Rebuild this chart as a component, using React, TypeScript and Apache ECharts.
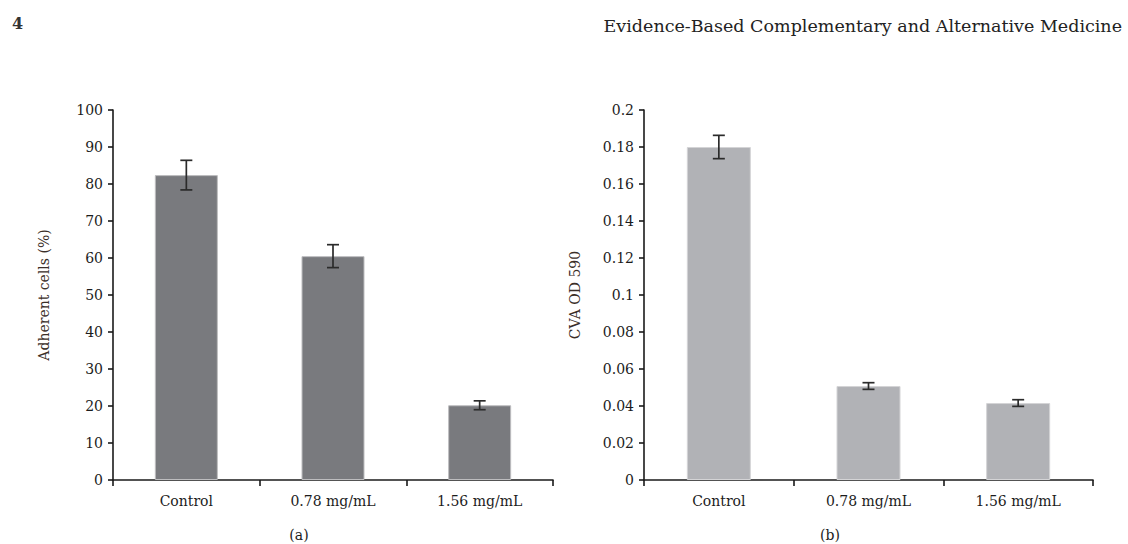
import React, { useEffect, useRef } from "react";
import * as echarts from "echarts";

const categories = ["Control", "0.78 mg/mL", "1.56 mg/mL"];
const adherentValues = [82.4, 60.5, 20.2];
const adherentErrors = [4.0, 3.1, 1.2];
const cvaValues = [0.18, 0.0508, 0.0416];
const cvaErrors = [0.0063, 0.0018, 0.0018];
const adherentTicks = { min: 0, max: 100, interval: 10 };
const cvaTicks = { min: 0, max: 0.2, interval: 0.02 };

const FONT = "DejaVu Serif";
const TEXT = "#1c1c1c";

function errorSeries(xAxisIndex: number, yAxisIndex: number, vals: number[], errs: number[]) {
  return {
    type: "custom",
    xAxisIndex,
    yAxisIndex,
    data: vals.map((v, i) => [i, v - errs[i], v + errs[i]]),
    z: 10,
    renderItem: (params: any, api: any) => {
      const x = api.value(0);
      const lo = api.coord([x, api.value(1)]);
      const hi = api.coord([x, api.value(2)]);
      const hw = 6;
      const style = { stroke: "#2b2b2b", lineWidth: 1.7 };
      return {
        type: "group",
        children: [
          { type: "line", shape: { x1: lo[0], y1: lo[1], x2: hi[0], y2: hi[1] }, style },
          { type: "line", shape: { x1: lo[0] - hw, y1: lo[1], x2: lo[0] + hw, y2: lo[1] }, style },
          { type: "line", shape: { x1: hi[0] - hw, y1: hi[1], x2: hi[0] + hw, y2: hi[1] }, style },
        ],
      };
    },
  };
}

function xAxisCfg(gridIndex: number) {
  return {
    type: "category",
    gridIndex,
    data: categories,
    axisLine: { lineStyle: { color: "#1a1a1a", width: 1.6 } },
    axisTick: { show: true, length: 6, lineStyle: { color: "#1a1a1a", width: 1.6 } },
    axisLabel: { margin: 14, fontFamily: FONT, fontSize: 14, color: TEXT },
  };
}

function yAxisCfg(gridIndex: number, ticks: any, name: string, fmt: (v: number) => string) {
  return {
    type: "value",
    gridIndex,
    min: ticks.min,
    max: ticks.max,
    interval: ticks.interval,
    name,
    nameLocation: "middle",
    nameGap: 62,
    nameRotate: 90,
    nameTextStyle: { fontFamily: FONT, fontSize: 14, color: "#3a2e28" },
    splitLine: { show: false },
    axisLine: { show: true, lineStyle: { color: "#1a1a1a", width: 1.6 } },
    axisTick: { show: true, inside: false, length: 5, lineStyle: { color: "#1a1a1a", width: 1.6 } },
    axisLabel: { margin: 10, fontFamily: FONT, fontSize: 14, color: TEXT, formatter: fmt },
  };
}

export default function App() {
  const ref = useRef<HTMLDivElement>(null);
  useEffect(() => {
    if (!ref.current) return;
    const chart = echarts.init(ref.current, null, { renderer: "svg" });
    chart.setOption({
      animation: false,
      backgroundColor: "#ffffff",
      grid: [
        { left: 113, top: 110, width: 440, height: 370 },
        { left: 644, top: 110, width: 449, height: 370 },
      ],
      xAxis: [xAxisCfg(0), xAxisCfg(1)],
      yAxis: [
        yAxisCfg(0, adherentTicks, "Adherent cells (%)", (v: number) => String(v)),
        yAxisCfg(1, cvaTicks, "CVA OD 590", (v: number) => String(Number(v.toFixed(2)))),
      ],
      series: [
        {
          type: "bar",
          xAxisIndex: 0,
          yAxisIndex: 0,
          data: adherentValues,
          barWidth: 63,
          itemStyle: { color: "#797a7e", borderColor: "#bdbdbf", borderWidth: 1 },
        },
        errorSeries(0, 0, adherentValues, adherentErrors),
        {
          type: "bar",
          xAxisIndex: 1,
          yAxisIndex: 1,
          data: cvaValues,
          barWidth: 64,
          itemStyle: { color: "#b1b2b6", borderColor: "#d4d4d6", borderWidth: 1 },
        },
        errorSeries(1, 1, cvaValues, cvaErrors),
      ],
      graphic: [
        {
          type: "text",
          left: 12,
          top: 15,
          style: { text: "4", fontFamily: FONT, fontSize: 16, fontWeight: "bold", fill: "#333" },
        },
        {
          type: "text",
          right: 6,
          top: 17,
          style: {
            text: "Evidence-Based Complementary and Alternative Medicine",
            fontFamily: FONT,
            fontSize: 17.5,
            fill: "#222",
          },
        },
        {
          type: "text",
          x: 299,
          y: 535,
          style: { text: "(a)", fontFamily: FONT, fontSize: 14, fill: TEXT, align: "center", verticalAlign: "middle" },
        },
        {
          type: "text",
          x: 830,
          y: 535,
          style: { text: "(b)", fontFamily: FONT, fontSize: 14, fill: TEXT, align: "center", verticalAlign: "middle" },
        },
      ],
    });
    return () => chart.dispose();
  }, []);
  return (
    <div
      ref={ref}
      style={{ position: "fixed", left: 0, top: 0, width: 1128, height: 544, background: "#fff" }}
    />
  );
}
